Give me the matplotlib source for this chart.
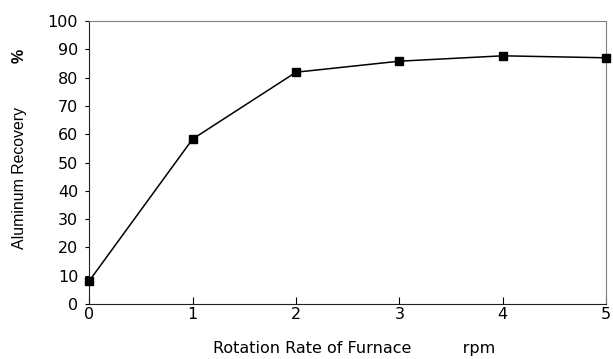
import matplotlib
matplotlib.use("Agg")
import matplotlib.pyplot as plt

plt.rcParams['font.family'] = ['DejaVu Sans']

rpm = [0, 1, 2, 3, 4, 5]
recovery = [8.2, 58.3, 81.9, 85.8, 87.7, 87.0]
y_ticks = [0, 10, 20, 30, 40, 50, 60, 70, 80, 90, 100]

fig = plt.figure(figsize=(6.13, 3.59), dpi=100)
# axes box
ax = fig.add_axes([0.1457, 0.1532, 0.9886 - 0.1457, 0.9415 - 0.1532])

ax.plot(rpm, recovery, color="black", linewidth=1.1, marker="s", markersize=6,
        clip_on=False, zorder=3)

ax.set_xlim(0, 5)
ax.set_ylim(0, 100)
ax.set_xticks(rpm)
ax.set_yticks(y_ticks)
ax.tick_params(axis="x", direction="in", length=5, labelsize=11.5, pad=2)
ax.tick_params(axis="y", direction="out", length=3, labelsize=11.5, pad=5)

for side in ["top", "right"]:
    ax.spines[side].set_color("#808080")
for side in ["left", "bottom"]:
    ax.spines[side].set_color("#202020")

ax.set_xlabel("Rotation Rate of Furnace          rpm", fontsize=11.5, labelpad=14)
ax.xaxis.label.set_x(0.512)  # nudge right a bit, like the reference
fig.text(0.031, 0.505, "Aluminum Recovery", rotation=90, fontsize=11.4,
         family="Liberation Sans", ha="center", va="center")
fig.text(0.032, 0.845, "%", rotation=90, fontsize=11.5, fontweight="bold",
         family="Liberation Sans", ha="center", va="center")

fig.savefig("out.png", dpi=100)
